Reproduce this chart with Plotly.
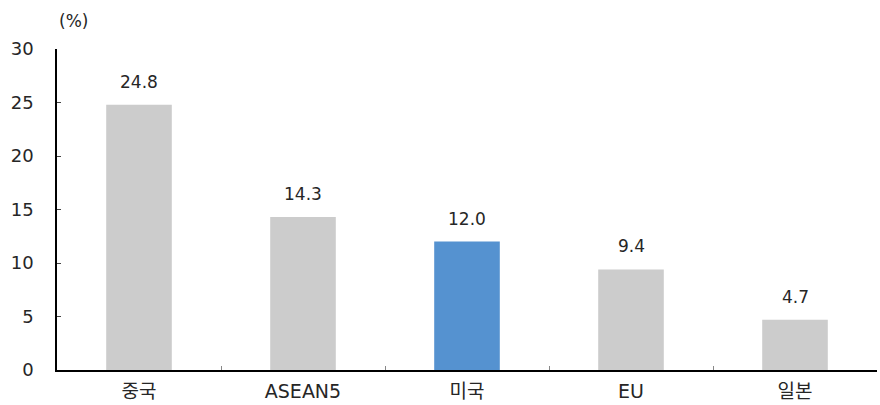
import plotly.graph_objects as go

categories = ["중국", "ASEAN5", "미국", "EU", "일본"]
values = [24.8, 14.3, 12.0, 9.4, 4.7]
labels = ["24.8", "14.3", "12.0", "9.4", "4.7"]
colors = ["#CCCCCC", "#CCCCCC", "#5592D0", "#CCCCCC", "#CCCCCC"]

font_family = "DejaVu Sans, Noto Sans CJK KR, sans-serif"
text_color = "#262626"

fig = go.Figure(go.Bar(
    x=categories, y=values,
    marker=dict(color=colors, line=dict(width=0)),
    width=0.4,
))

for c, v, t in zip(categories, values, labels):
    fig.add_annotation(
        x=c, y=v, text=t, showarrow=False, yanchor="bottom", yshift=11,
        font=dict(size=17, color=text_color, family=font_family),
    )

fig.update_layout(
    width=880, height=405,
    margin=dict(l=57, r=3, t=49, b=35),
    paper_bgcolor="white", plot_bgcolor="white",
    showlegend=False,
    font=dict(family=font_family, size=18, color=text_color),
    xaxis=dict(
        showline=True, linecolor="black", linewidth=2,
        ticks="inside", tickson="boundaries", ticklen=4, tickcolor="#888888",
        tickfont=dict(size=19, family="DejaVu Sans, Noto Sans CJK KR"),
        ticklabelstandoff=3,
        showgrid=False,
    ),
    yaxis=dict(
        range=[0, 30], dtick=5, showline=True, linecolor="black", linewidth=1.5,
        ticks="inside", ticklen=4, tickcolor="#444444",
        ticklabelstandoff=18,
        tickfont=dict(size=18), showgrid=False, zeroline=False,
    ),
)

fig.add_annotation(
    text="(%)", xref="paper", yref="paper", x=0, y=1, xshift=0, yshift=16,
    xanchor="left", yanchor="bottom", showarrow=False,
    font=dict(size=17, color=text_color, family=font_family),
)

fig.write_html("out.html")
